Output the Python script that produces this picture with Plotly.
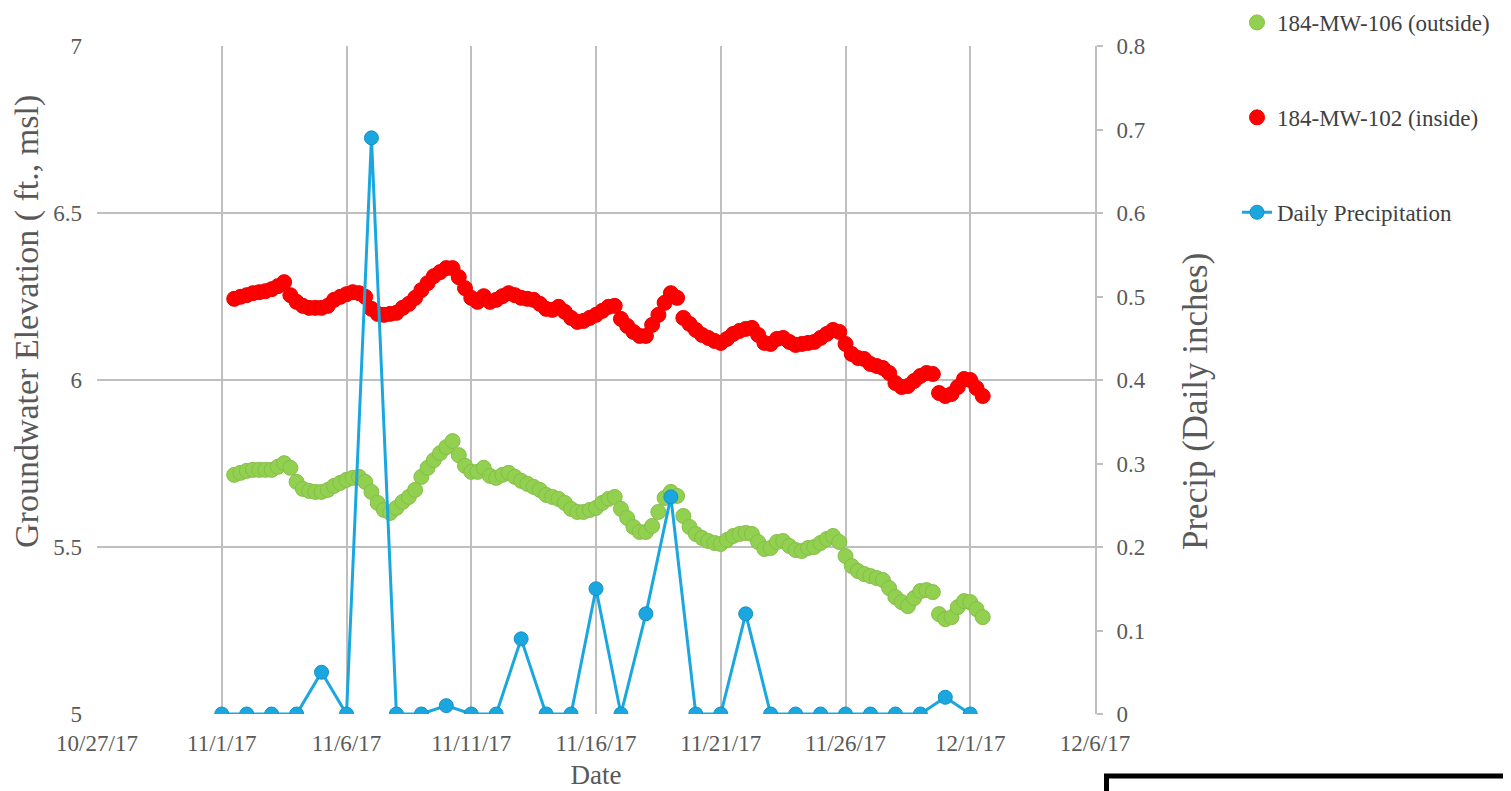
import plotly.graph_objects as go
import pandas as pd

# ---------------- data ----------------
gw_start = "2017-11-01 12:00"
gw_step_hours = 6

mw102_inside = [
    6.243, 6.249, 6.254, 6.260, 6.263, 6.266, 6.272, 6.281, 6.293, 6.254,
    6.234, 6.222, 6.216, 6.216, 6.216, 6.222, 6.240, 6.249, 6.257, 6.263,
    6.260, 6.249, 6.213, 6.198, 6.195, 6.198, 6.201, 6.216, 6.228, 6.246,
    6.269, 6.290, 6.311, 6.323, 6.335, 6.335, 6.308, 6.275, 6.246, 6.234,
    6.251, 6.234, 6.240, 6.251, 6.260, 6.254, 6.246, 6.243, 6.240, 6.228,
    6.213, 6.210, 6.219, 6.204, 6.186, 6.174, 6.177, 6.186, 6.195, 6.207,
    6.219, 6.222, 6.183, 6.162, 6.144, 6.132, 6.132, 6.165, 6.195, 6.231,
    6.260, 6.246, 6.186, 6.168, 6.150, 6.135, 6.126, 6.117, 6.111, 6.123,
    6.138, 6.147, 6.153, 6.156, 6.135, 6.111, 6.108, 6.123, 6.126, 6.114,
    6.105, 6.108, 6.111, 6.114, 6.126, 6.138, 6.150, 6.144, 6.108, 6.078,
    6.066, 6.063, 6.048, 6.042, 6.036, 6.021, 5.991, 5.979, 5.982, 5.997,
    6.012, 6.021, 6.018, 5.961, 5.952, 5.958, 5.979, 6.003, 6.000, 5.976,
    5.952,
]

mw106_outside = [
    5.716, 5.722, 5.728, 5.731, 5.731, 5.731, 5.731, 5.740, 5.751, 5.737,
    5.695, 5.674, 5.668, 5.665, 5.665, 5.671, 5.683, 5.692, 5.701, 5.707,
    5.710, 5.695, 5.665, 5.632, 5.611, 5.602, 5.617, 5.635, 5.650, 5.671,
    5.710, 5.737, 5.760, 5.781, 5.799, 5.817, 5.775, 5.743, 5.725, 5.725,
    5.737, 5.713, 5.707, 5.716, 5.722, 5.710, 5.698, 5.689, 5.680, 5.671,
    5.656, 5.650, 5.644, 5.632, 5.614, 5.605, 5.605, 5.611, 5.617, 5.632,
    5.644, 5.650, 5.614, 5.587, 5.560, 5.545, 5.545, 5.563, 5.605, 5.647,
    5.665, 5.653, 5.593, 5.560, 5.539, 5.527, 5.518, 5.512, 5.509, 5.521,
    5.533, 5.539, 5.542, 5.539, 5.515, 5.494, 5.497, 5.515, 5.518, 5.503,
    5.491, 5.488, 5.497, 5.500, 5.512, 5.524, 5.533, 5.515, 5.473, 5.443,
    5.428, 5.419, 5.413, 5.407, 5.401, 5.377, 5.350, 5.335, 5.323, 5.347,
    5.368, 5.371, 5.365, 5.299, 5.284, 5.290, 5.320, 5.338, 5.335, 5.314,
    5.290,
]

precip_dates = pd.date_range("2017-11-01", "2017-12-01", freq="D")
daily_precip = [
    0, 0, 0, 0, 0.05, 0, 0.69, 0, 0, 0.01,
    0, 0, 0.09, 0, 0, 0.15, 0, 0.12, 0.26, 0,
    0, 0.12, 0, 0, 0, 0, 0, 0, 0, 0.02,
    0,
]

gw_times = pd.date_range(gw_start, periods=len(mw102_inside), freq=f"{gw_step_hours}h")

left_title = "Groundwater Elevation ( ft., msl)"
right_title = "Precip (Daily inches)"
x_title = "Date"

# ---------------- figure ----------------
FONT = "Liberation Serif, Times New Roman, serif"
GRID = "#BFBFBF"
TXT = "#595959"

fig = go.Figure()

fig.add_trace(go.Scatter(
    x=gw_times, y=mw106_outside, mode="markers", name="184-MW-106 (outside)",
    legendgroup="g1",
    marker=dict(size=15, color="#92D050", line=dict(color="#86BE4A", width=1)),
))
fig.add_trace(go.Scatter(
    x=gw_times, y=mw102_inside, mode="markers", name="184-MW-102 (inside)",
    legendgroup="g2",
    marker=dict(size=15, color="#FF0000", line=dict(color="#EE0000", width=1)),
))
fig.add_trace(go.Scatter(
    x=precip_dates, y=daily_precip, mode="lines+markers", name="Daily Precipitation",
    legendgroup="g3", yaxis="y2",
    line=dict(color="#1AA7E0", width=3),
    marker=dict(size=14, color="#1AA7E0", line=dict(color="#1590C4", width=1)),
))

# page body has an 8px margin, so the figure is sized/offset accordingly
OFF = 8
W, H = 1511 - OFF, 791 - OFF
L, R, T, B = 89, 416, 38, 77
pw, ph = W - L - R, H - T - B

def px_x(sx):
    return (sx - OFF - L) / pw

def px_y(sy):
    return (H - B - (sy - OFF)) / ph

fig.update_layout(
    width=W, height=H,
    margin=dict(l=L, r=R, t=T, b=B, autoexpand=False),
    paper_bgcolor="white", plot_bgcolor="white",
    font=dict(family=FONT, size=23, color=TXT),
    showlegend=True,
    legend=dict(
        x=px_x(1237), y=px_y(1), xanchor="left", yanchor="top",
        font=dict(family=FONT, size=23, color="#404040"),
        tracegroupgap=62, itemsizing="trace", bgcolor="rgba(0,0,0,0)",
    ),
    xaxis=dict(
        type="date",
        range=["2017-10-27", "2017-12-06"],
        tick0="2017-10-27", dtick=5 * 86400000,
        tickformat="%-m/%-d/%y",
        showgrid=True, gridcolor=GRID, gridwidth=2,
        showline=False, zeroline=False, ticks="",
        ticklabelstandoff=13,
        tickfont=dict(family=FONT, size=23, color=TXT),
        title=dict(text=x_title, font=dict(family=FONT, size=27, color=TXT), standoff=10),
    ),
    yaxis=dict(
        range=[5, 7], dtick=0.5,
        showgrid=True, gridcolor=GRID, gridwidth=2,
        showline=False, zeroline=False, ticks="",
        ticklabelstandoff=14,
        tickfont=dict(family=FONT, size=23, color=TXT),
    ),
    yaxis2=dict(
        range=[0, 0.8], dtick=0.1, overlaying="y", side="right",
        showgrid=False, zeroline=False,
        showline=True, linecolor=GRID, linewidth=2,
        ticks="outside", ticklen=6, tickcolor=GRID, tickwidth=2,
        ticklabelstandoff=9,
        tickfont=dict(family=FONT, size=23, color=TXT),
    ),
    annotations=[
        dict(text=left_title, textangle=-90, xref="paper", yref="paper",
             x=px_x(27), y=px_y(322), xanchor="center", yanchor="middle",
             showarrow=False, font=dict(family=FONT, size=34, color=TXT)),
        dict(text=right_title, textangle=-90, xref="paper", yref="paper",
             x=px_x(1195), y=px_y(402), xanchor="center", yanchor="middle",
             showarrow=False, font=dict(family=FONT, size=35, color=TXT)),
    ],
    shapes=[dict(
        type="rect", xref="paper", yref="paper",
        x0=px_x(1106.5), x1=px_x(1540), y0=px_y(776), y1=px_y(810),
        line=dict(color="black", width=5), fillcolor="rgba(0,0,0,0)",
        layer="above",
    )],
)

fig.write_html("out.html")
